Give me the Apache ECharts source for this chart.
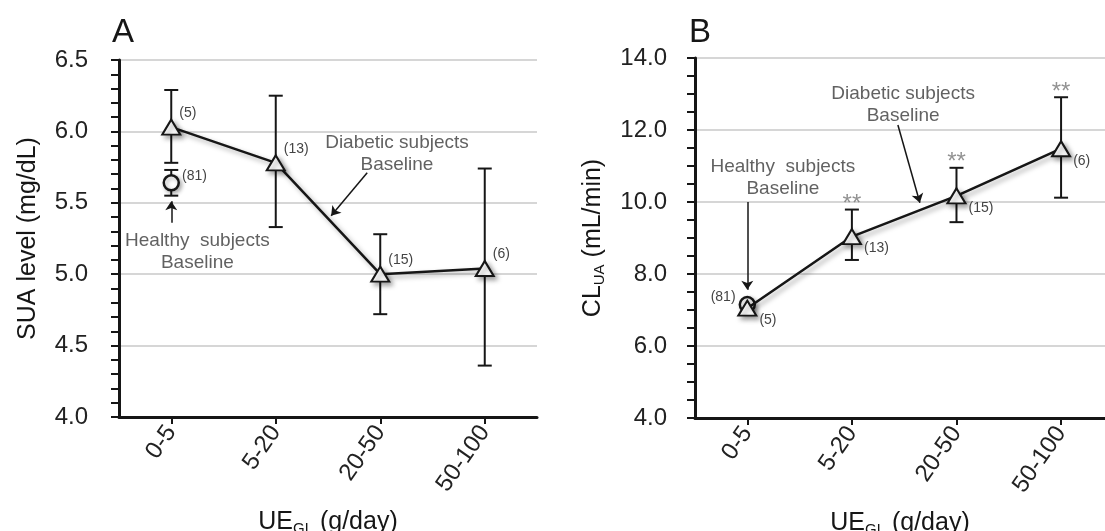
<!DOCTYPE html>
<html><head><meta charset="utf-8">
<script src="https://cdn.jsdelivr.net/npm/echarts@6/dist/echarts.min.js"></script>
<style>html,body{margin:0;padding:0;background:#fff}#c{width:1105px;height:531px}</style>
</head><body><div id="c"></div>
<script>
// ---- data ----
const categories = ['0-5', '5-20', '20-50', '50-100'];

// Panel A: SUA level (mg/dL)
const suaDiabetic = [6.03, 5.78, 5.00, 5.04];
const suaDiabeticLow = [5.78, 5.33, 4.72, 4.36];
const suaDiabeticHigh = [6.29, 6.25, 5.28, 5.74];
const suaDiabeticN = ['(5)', '(13)', '(15)', '(6)'];
const suaHealthy = [5.64];
const suaHealthyLow = [5.55];
const suaHealthyHigh = [5.73];
const suaHealthyN = ['(81)'];

// Panel B: CL_UA (mL/min)
const clDiabetic = [7.05, 9.04, 10.17, 11.48];
const clDiabeticLow = [null, 8.39, 9.44, 10.12];
const clDiabeticHigh = [null, 9.79, 10.95, 12.91];
const clDiabeticN = ['(5)', '(13)', '(15)', '(6)'];
const clSig = ['', '**', '**', '**'];
const clHealthy = [7.15];
const clHealthyN = ['(81)'];

// ---- helpers ----
const FONT = 'Liberation Sans, Arial, sans-serif';
const INK = '#161616';
const catIdx = categories.map((c, i) => i);

function xAxisCfg(gridIndex, max) {
  return {
    type: 'value', gridIndex, min: -0.5, max,
    name: 'UE{sub|GL} (g/day)', nameLocation: 'middle', nameGap: 91,
    nameTextStyle: {fontFamily: FONT, fontSize: 25, color: INK,
      rich: {sub: {fontFamily: FONT, fontSize: 15, color: INK, padding: [13, 0, 0, 0]}}},
    axisLine: {onZero: false, lineStyle: {color: INK, width: 3}},
    axisTick: {show: true, customValues: catIdx, length: 7, lineStyle: {color: INK, width: 2}},
    axisLabel: {customValues: catIdx, rotate: 55, margin: 11, fontFamily: FONT, fontSize: 24, color: '#222',
      formatter: v => categories[Math.round(v)]},
    splitLine: {show: false}
  };
}
function yAxisCfg(gridIndex, min, max, interval, minorSplit, name, gap, margin) {
  return {
    type: 'value', gridIndex, min, max, interval,
    name, nameLocation: 'middle', nameGap: gap,
    nameTextStyle: {fontFamily: FONT, fontSize: 25, color: INK,
      rich: {sub: {fontFamily: FONT, fontSize: 15, color: INK, padding: [13, 0, 0, 0]}}},
    axisLine: {show: true, onZero: false, lineStyle: {color: INK, width: 3}},
    axisTick: {show: true, inside: false, length: 8, lineStyle: {color: INK, width: 2}},
    minorTick: {show: true, splitNumber: minorSplit, length: 8, lineStyle: {color: INK, width: 2}},
    axisLabel: {margin, fontFamily: FONT, fontSize: 24, color: '#222', formatter: v => v.toFixed(1)},
    splitLine: {show: true, lineStyle: {color: '#c9c9c9', width: 1.5}}
  };
}
function errorSeries(ai, lows, highs) {
  const data = [];
  lows.forEach((l, i) => { if (l != null) data.push([i, l, highs[i]]); });
  return {
    type: 'custom', xAxisIndex: ai, yAxisIndex: ai, silent: true, z: 2,
    encode: {x: 0, y: [1, 2]}, data,
    renderItem: (params, api) => {
      const x = api.value(0);
      const lo = api.coord([x, api.value(1)]);
      const hi = api.coord([x, api.value(2)]);
      const w = 7;
      const style = {stroke: INK, lineWidth: 2};
      return {type: 'group', children: [
        {type: 'line', shape: {x1: lo[0], y1: lo[1], x2: hi[0], y2: hi[1]}, style},
        {type: 'line', shape: {x1: hi[0] - w, y1: hi[1], x2: hi[0] + w, y2: hi[1]}, style},
        {type: 'line', shape: {x1: lo[0] - w, y1: lo[1], x2: lo[0] + w, y2: lo[1]}, style}
      ]};
    }
  };
}
const shadow = {shadowColor: 'rgba(0,0,0,0.35)', shadowBlur: 5, shadowOffsetX: 3, shadowOffsetY: 3};
function diabeticLine(ai, values, nLabels, labelOffset) {
  return {
    type: 'line', xAxisIndex: ai, yAxisIndex: ai, z: 4,
    data: values.map((v, i) => [i, v]),
    symbol: 'triangle', symbolSize: [18, 15], showAllSymbol: true,
    lineStyle: Object.assign({color: INK, width: 2.5}, shadow),
    itemStyle: Object.assign({color: '#fff', borderColor: INK, borderWidth: 2, opacity: 1}, shadow),
    label: {show: true, position: 'right', distance: 0, offset: labelOffset,
      fontFamily: FONT, fontSize: 14, color: '#444', formatter: p => nLabels[p.dataIndex]}
  };
}
function healthyPoint(ai, values, nLabels, pos, labelOffset, z) {
  return {
    type: 'scatter', xAxisIndex: ai, yAxisIndex: ai, z,
    data: values.map((v, i) => [i, v]),
    symbol: 'circle', symbolSize: 15,
    itemStyle: {color: '#fff', borderColor: INK, borderWidth: 2.5, opacity: 1,
      shadowColor: 'rgba(0,0,0,0.3)', shadowBlur: 4, shadowOffsetX: 2, shadowOffsetY: 2},
    label: {show: true, position: pos, distance: 0, offset: labelOffset,
      fontFamily: FONT, fontSize: 14, color: '#444', formatter: p => nLabels[p.dataIndex]}
  };
}
function annotations(ai, texts, arrows) {
  return {
    type: 'scatter', xAxisIndex: ai, yAxisIndex: ai, silent: true, z: 5,
    symbolSize: 0,
    data: texts.map(t => ({value: t.at, name: t.text})),
    label: {show: true, position: 'inside', formatter: '{b}', align: 'center',
      fontFamily: FONT, fontSize: 19, lineHeight: 22, color: '#3a3a3a'},
    markLine: {
      silent: true, animation: false, symbol: ['none', 'arrow'], symbolSize: 9,
      label: {show: false},
      lineStyle: {color: INK, width: 1.5, type: 'solid'},
      data: arrows.map(a => [{coord: a[0]}, {coord: a[1]}])
    }
  };
}

const chart = echarts.init(document.getElementById('c'), null, {renderer: 'canvas'});
chart.setOption({
  animation: false,
  backgroundColor: '#fff',
  title: [
    {text: 'A', left: 107, top: 11, textStyle: {fontFamily: FONT, fontSize: 33, fontWeight: 'normal', color: INK}},
    {text: 'B', left: 684, top: 11, textStyle: {fontFamily: FONT, fontSize: 33, fontWeight: 'normal', color: INK}}
  ],
  grid: [
    {left: 119, top: 60, width: 418, height: 357, outerBoundsMode: 'none', containLabel: false},
    {left: 695, top: 58, width: 410, height: 360, outerBoundsMode: 'none', containLabel: false}
  ],
  xAxis: [xAxisCfg(0, 3.5), xAxisCfg(1, 3.42)],
  yAxis: [
    yAxisCfg(0, 4, 6.5, 0.5, 5, 'SUA level (mg/dL)', 78, 31),
    yAxisCfg(1, 4, 14, 2, 4, 'CL{sub|UA} (mL/min)', 88, 28)
  ],
  series: [
    // Panel A
    errorSeries(0, suaDiabeticLow, suaDiabeticHigh),
    errorSeries(0, suaHealthyLow, suaHealthyHigh),
    diabeticLine(0, suaDiabetic, suaDiabeticN, [-2, -14]),
    healthyPoint(0, suaHealthy, suaHealthyN, 'right', [2, -7], 4),
    annotations(0,
      [{at: [2.16, 5.84], text: 'Diabetic subjects\nBaseline'},
       {at: [0.25, 5.16], text: 'Healthy  subjects\nBaseline'}],
      [[[1.875, 5.71], [1.53, 5.41]], [[0, 5.36], [0, 5.51]]]),
    // Panel B
    errorSeries(1, clDiabeticLow, clDiabeticHigh),
    healthyPoint(1, clHealthy, clHealthyN, 'left', [-3, -7], 3),
    diabeticLine(1, clDiabetic, clDiabeticN, [2, 12]),
    {
      type: 'scatter', xAxisIndex: 1, yAxisIndex: 1, silent: true, symbolSize: 0, z: 5,
      data: clDiabeticHigh.map((h, i) => [i, h]).filter((d, i) => clSig[i] && d[1] != null),
      label: {show: true, position: 'top', distance: 0, offset: [0, 7], fontFamily: FONT, fontSize: 24, color: '#777',
        formatter: p => clSig[p.value[0]]}
    },
    annotations(1,
      [{at: [0.34, 10.67], text: 'Healthy  subjects\nBaseline'},
       {at: [1.49, 12.71], text: 'Diabetic subjects\nBaseline'}],
      [[[0, 10.0], [0, 7.56]], [[1.44, 12.14], [1.65, 9.98]]])
  ]
});
</script></body></html>
